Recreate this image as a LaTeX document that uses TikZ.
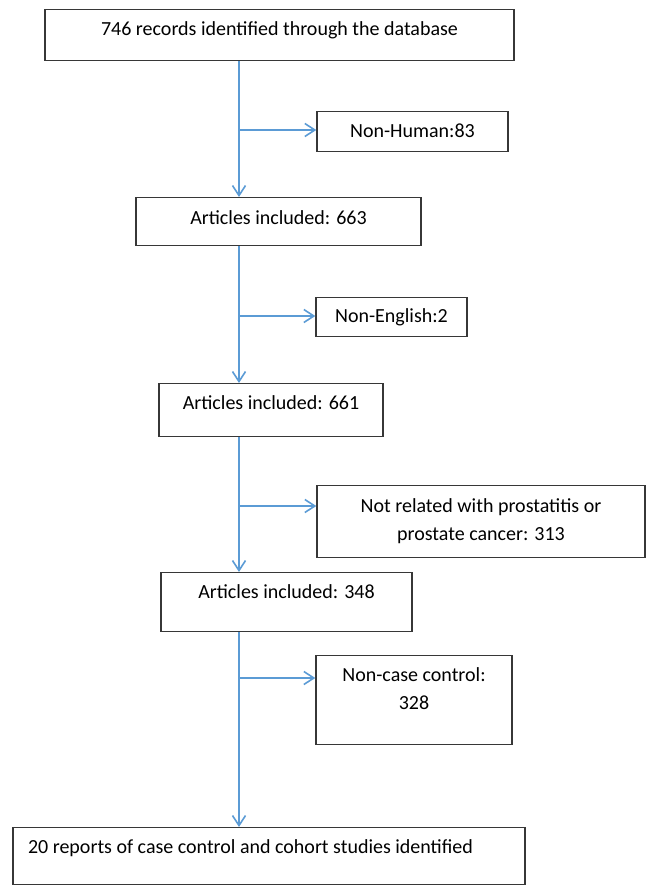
\documentclass[tikz,border=0pt]{standalone}
\usepackage{fontspec}
\setmainfont{Carlito}
\usetikzlibrary{arrows.meta}
\definecolor{flowblue}{RGB}{91,155,213}
\definecolor{boxgray}{RGB}{55,55,55}
\tikzset{
	stage/.style={draw=boxgray, line width=1.4pt, inner sep=0pt, anchor=north, align=center, font=\fontsize{20}{28}\selectfont},
	flow/.style={draw=flowblue, line width=1.6pt, -{Straight Barb[length=10pt, width=13pt]}}
}
\begin{document}
\begin{tikzpicture}[x=1pt, y=-1pt]
	\useasboundingbox (0,0) rectangle (653,894);
	% main column
	\node [stage, minimum width=469pt, text height=26pt, text depth=25pt] (records) at (279.5,9) {746 records identified through the database};
	\node [stage, minimum width=285pt, text height=27pt, text depth=21pt] (incl1) at (278.5,197) {Articles included: 663};
	\node [stage, minimum width=224pt, text height=26pt, text depth=27pt] (incl2) at (271,383) {Articles included: 661};
	\node [stage, minimum width=251pt, text height=26pt, text depth=33pt] (incl3) at (286.5,572) {Articles included: 348};
	\node [stage, align=flush left, inner xsep=15pt, text width=482pt, text height=26pt, text depth=31pt] (final) at (269,827) {20 reports of case control and cohort studies identified};
	% excluded
	\node [stage, minimum width=191pt, text height=26pt, text depth=14pt] (human) at (412.5,111) {Non-Human:83};
	\node [stage, minimum width=151pt, text height=25pt, text depth=14pt] (english) at (391.5,297) {Non-English:2};
	\node [stage, minimum width=328pt, text height=55pt, text depth=17pt] (related) at (481,485) {Not related with prostatitis or\\prostate cancer: 313};
	\node [stage, minimum width=196pt, text height=54pt, text depth=35pt] (casectl) at (414,655) {Non-case control:\\328};
	% arrows
	\coordinate (spine) at (239,0);
	\coordinate (cut1) at (239,130);
	\coordinate (cut2) at (239,316);
	\coordinate (cut3) at (239,506);
	\coordinate (cut4) at (239,678);
	\draw [flow] (spine |- records.south) -- (spine |- incl1.north);
	\draw [flow] (spine |- incl1.south) -- (spine |- incl2.north);
	\draw [flow] (spine |- incl2.south) -- (spine |- incl3.north);
	\draw [flow] (spine |- incl3.south) -- (spine |- final.north);
	\draw [flow] (cut1) -- (cut1 -| human.west);
	\draw [flow] (cut2) -- (cut2 -| english.west);
	\draw [flow] (cut3) -- (cut3 -| related.west);
	\draw [flow] (cut4) -- (cut4 -| casectl.west);
\end{tikzpicture}
\end{document}
